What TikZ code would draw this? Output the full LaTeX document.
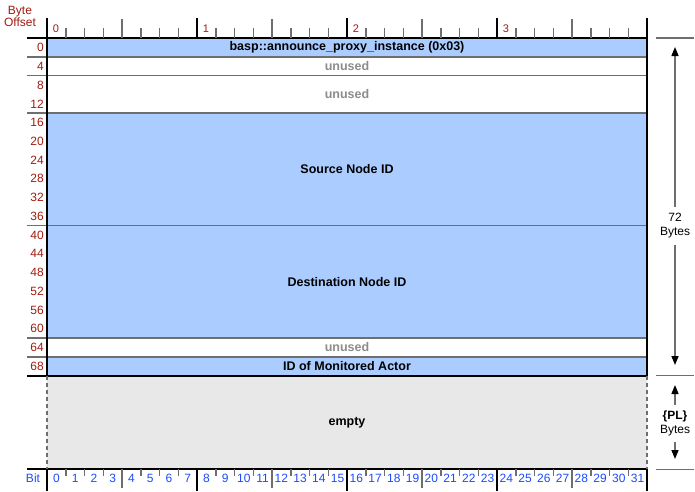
\documentclass[tikz,border=0pt]{standalone}
\usepackage{fontspec}
\setmainfont{Liberation Sans}
\usetikzlibrary{arrows.meta}
\definecolor{fieldblue}{HTML}{AACCFF}
\definecolor{emptygray}{HTML}{E8E8E8}
\definecolor{offred}{HTML}{A31A10}
\definecolor{bitblue}{HTML}{1A4BFF}
\definecolor{rulegray}{HTML}{6E6E6E}
\definecolor{unusedgray}{HTML}{8C8C8C}
\begin{document}
\begin{tikzpicture}[x=1pt,y=-1pt,
  every node/.style={font=\fontsize{12}{13}\selectfont},
  field/.style={minimum width=600pt,inner sep=0pt,font=\fontsize{12.5}{13}\selectfont\bfseries},
  bluefield/.style={field,fill=fieldblue},
  whitefield/.style={field,fill=white,text=unusedgray},
  grayfield/.style={field,fill=emptygray},
  frame/.style={line width=2pt,black},
  sepline/.style={line width=1.6pt,rulegray},
  tickgray/.style={line width=1.5pt,rulegray},
  tickblack/.style={line width=1.8pt,black},
  offlbl/.style={text=offred,anchor=east,inner sep=0pt},
  bytelbl/.style={text=offred,inner sep=0pt,font=\fontsize{11}{12}\selectfont},
  bitlbl/.style={text=bitblue,inner sep=0pt},
  dimline/.style={line width=1.5pt,rulegray},
  dimarrow/.style={line width=1.5pt,rulegray,-{Triangle[width=7pt,length=9pt,color=black]}},
  anno/.style={align=center,inner sep=6pt,font=\fontsize{12}{14}\selectfont}]
\useasboundingbox (0,0) rectangle (695,491);

% field areas (one row = 4 bytes = 18.75 units high)
\node[bluefield,minimum height=18.75pt]  (hdr) at (347,47.375)  {basp::announce\_proxy\_instance (0x03)};
\node[whitefield,minimum height=18.75pt] (un1) at (347,66.125)  {unused};
\node[whitefield,minimum height=37.5pt]  (un2) at (347,94.25)   {unused};
\node[bluefield,minimum height=112.5pt]  (src) at (347,169.25)  {Source Node ID};
\node[bluefield,minimum height=112.5pt]  (dst) at (347,281.75)  {Destination Node ID};
\node[whitefield,minimum height=18.75pt] (un3) at (347,347.375) {unused};
\node[bluefield,minimum height=18.75pt]  (mon) at (347,366.125) {ID of Monitored Actor};
\node[grayfield,minimum height=93.75pt]  (emp) at (347,422.375) {empty};

% row separators
\foreach \r in {1,2,4,10,16,17}
  \draw[sepline] (27,38+18.75*\r) -- (647,38+18.75*\r);
\draw[frame] (27,38) -- (647,38);
\draw[frame] (27,375.5) -- (647,375.5);
\draw[frame] (27,469.25) -- (647,469.25);

% top ruler ticks
\foreach \b in {1,...,31}{
  \pgfmathtruncatemacro{\mA}{mod(\b,8)}
  \pgfmathtruncatemacro{\mB}{mod(\b,4)}
  \pgfmathsetmacro{\xx}{47+18.75*\b}
  \ifnum\mA=0
    \draw[tickblack] (\xx,18) -- (\xx,38);
  \else\ifnum\mB=0
    \draw[tickgray] (\xx,19) -- (\xx,38);
  \else
    \draw[tickgray] (\xx,28) -- (\xx,38);
  \fi\fi
}
% bottom ruler ticks
\foreach \b in {1,...,31}{
  \pgfmathtruncatemacro{\mA}{mod(\b,8)}
  \pgfmathtruncatemacro{\mB}{mod(\b,4)}
  \pgfmathsetmacro{\xx}{47+18.75*\b}
  \ifnum\mA=0
    \draw[tickblack] (\xx,469.25) -- (\xx,491);
  \else\ifnum\mB=0
    \draw[tickgray] (\xx,469.25) -- (\xx,488);
  \else
    \draw[tickgray] (\xx,469.25) -- (\xx,476);
  \fi\fi
}

% side borders
\foreach \xx in {47,647}{
  \draw[frame] (\xx,18) -- (\xx,375.5);
  \draw[line width=1.5pt,rulegray,dash pattern=on 4pt off 3pt] (\xx,375.5) -- (\xx,469.25);
  \draw[frame] (\xx,469.25) -- (\xx,491);
}

% byte offsets
\node[text=offred,align=center,inner sep=0pt,font=\fontsize{12}{12.5}\selectfont] (offhead) at (20,16.5) {Byte\\Offset};
\foreach \r in {0,...,17}{
  \pgfmathtruncatemacro{\off}{4*\r}
  \node[offlbl] (off\r) at (44,38+18.75*\r+9.6) {\off};
}

% byte numbers on top ruler
\foreach \k in {0,1,2,3}
  \node[bytelbl] (byte\k) at (47+150*\k+9,29) {\k};

% bit numbers on bottom ruler
\node[bitlbl] (bithead) at (33,478) {Bit};
\foreach \b in {0,...,31}
  \node[bitlbl] (bit\b) at (47+18.75*\b+9.375,478) {\b};

% size annotations
\draw[dimline] (656,38) -- (694,38);
\draw[dimline] (656,375.5) -- (694,375.5);
\draw[dimline] (656,469.25) -- (694,469.25);
\coordinate (t72) at (675,47);
\coordinate (b72) at (675,365);
\node[anno] (l72) at (675,226) {72\\Bytes};
\draw[dimarrow] (l72) -- (t72);
\draw[dimarrow] (l72) -- (b72);
\coordinate (tpl) at (675,385);
\coordinate (bpl) at (675,459);
\node[anno] (lpl) at (675,423.5) {\textbf{\{PL\}}\\Bytes};
\draw[dimarrow] (lpl) -- (tpl);
\draw[dimarrow] (lpl) -- (bpl);
\end{tikzpicture}
\end{document}
